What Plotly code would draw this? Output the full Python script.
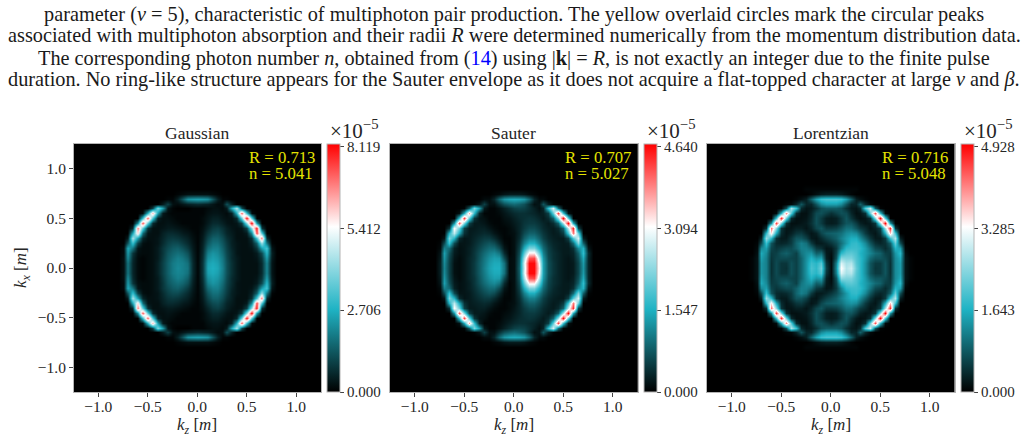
import numpy as np
import plotly.graph_objects as go

# Grid of the tabulated part of each spectrum: k_z across, k_x from 0 upward.
# Values are percentages of the panel's peak; the lower half mirrors the upper.
kz_tab = [round(-0.8 + 0.05 * i, 2) for i in range(33)]

gaussian_pct = [
    [0,3,22,7,2,1,2,3,6,12,18,23,26,24,22,8,1,10,31,33,31,24,15,9,5,3,3,3,3,8,25,4,0],
    [0,3,22,7,2,1,2,3,6,12,18,23,25,24,21,8,1,10,30,32,30,23,15,9,5,3,3,3,3,8,25,4,0],
    [0,3,26,8,2,1,2,3,5,11,17,21,24,22,18,7,1,9,27,30,28,22,14,8,5,3,3,3,4,10,29,5,0],
    [0,2,29,10,3,2,2,3,5,10,16,19,21,19,15,6,1,8,24,28,26,20,13,8,4,3,3,3,5,14,35,6,0],
    [0,2,32,22,4,2,2,3,5,10,14,17,18,15,11,5,1,7,20,24,24,18,12,7,4,3,3,4,10,30,40,4,0],
    [0,0,16,38,12,3,2,3,4,8,12,14,14,11,8,4,1,6,16,21,21,16,11,6,4,3,3,6,18,52,22,1,0],
    [0,0,5,55,30,7,3,3,4,7,10,11,10,8,6,3,1,5,13,18,18,14,9,6,3,3,3,9,40,85,8,0,0],
    [0,0,0,32,72,20,4,3,3,6,8,8,7,5,4,2,1,4,10,14,15,11,7,5,3,3,5,26,92,42,0,0,0],
    [0,0,0,8,85,44,9,3,3,4,5,5,4,3,2,1,1,3,7,11,12,9,6,4,3,4,12,52,98,10,0,0,0],
    [0,0,0,0,26,90,44,8,3,3,4,3,2,1,1,1,1,2,5,8,8,6,4,3,4,11,50,100,30,0,0,0,0],
    [0,0,0,0,0,38,88,40,6,3,3,2,1,1,1,1,1,2,4,6,6,4,3,3,8,45,98,44,0,0,0,0,0],
    [0,0,0,0,0,2,34,78,30,5,2,1,1,1,1,1,1,1,3,4,4,3,2,6,34,88,38,2,0,0,0,0,0],
    [0,0,0,0,0,0,0,12,48,30,4,1,0,0,0,1,1,1,2,3,3,2,5,32,55,14,0,0,0,0,0,0,0],
    [0,0,0,0,0,0,0,0,0,5,12,3,2,4,6,7,8,7,6,4,2,3,15,6,0,0,0,0,0,0,0,0,0],
    [0,0,0,0,0,0,0,0,0,0,1,1,6,16,27,29,30,29,27,16,6,1,1,0,0,0,0,0,0,0,0,0,0],
    [0,0,0,0,0,0,0,0,0,0,0,0,1,2,3,3,3,3,3,2,1,0,0,0,0,0,0,0,0,0,0,0,0],
    [0,0,0,0,0,0,0,0,0,0,0,0,0,0,0,0,0,0,0,0,0,0,0,0,0,0,0,0,0,0,0,0,0],
]

sauter_pct = [
    [0,6,25,12,3,2,4,7,11,17,24,30,33,33,22,2,3,18,60,100,100,70,30,15,10,7,5,4,5,13,28,7,0],
    [0,6,26,12,3,2,4,7,11,17,23,29,32,32,21,2,3,17,62,100,100,66,30,15,10,7,5,4,5,13,29,7,0],
    [0,5,28,13,4,2,4,7,10,16,22,27,30,29,14,2,3,16,55,90,92,58,28,14,9,7,5,4,6,15,32,7,0],
    [0,4,30,15,5,3,4,6,10,15,20,24,26,22,8,1,3,14,44,70,70,46,24,13,9,7,5,5,7,18,37,8,0],
    [0,2,24,20,6,3,4,6,9,13,17,20,20,14,4,1,3,12,33,48,48,33,20,12,8,6,5,5,9,26,34,4,0],
    [0,1,14,38,14,4,4,5,8,11,14,16,14,8,2,1,3,10,24,33,33,24,16,10,7,6,5,6,20,48,18,1,0],
    [0,0,4,48,34,8,4,5,7,9,11,11,8,4,1,1,3,8,18,24,24,18,12,8,6,5,5,12,42,62,6,0,0],
    [0,0,0,34,58,32,9,5,6,7,8,7,4,2,1,2,3,7,14,18,18,14,10,7,5,6,11,40,85,45,0,0,0],
    [0,0,0,9,68,46,12,5,5,6,6,4,2,1,1,2,4,7,11,14,14,11,8,6,5,8,18,58,95,12,0,0,0],
    [0,0,0,0,28,88,48,12,5,5,4,2,1,1,2,3,5,7,10,11,11,9,7,5,8,18,55,100,32,0,0,0,0],
    [0,0,0,0,0,38,92,44,10,4,3,1,1,1,3,4,6,8,9,10,9,7,5,8,18,52,100,45,0,0,0,0,0],
    [0,0,0,0,0,3,32,78,36,7,1,1,1,2,4,6,8,9,9,8,7,5,6,12,44,92,38,3,0,0,0,0,0],
    [0,0,0,0,0,0,1,17,48,30,5,1,1,3,6,9,12,13,12,9,6,3,7,38,62,20,1,0,0,0,0,0,0],
    [0,0,0,0,0,0,0,0,1,4,12,3,3,9,15,18,20,18,15,9,3,4,16,6,1,0,0,0,0,0,0,0,0],
    [0,0,0,0,0,0,0,0,0,0,2,2,7,19,28,31,32,31,28,19,7,2,2,0,0,0,0,0,0,0,0,0,0],
    [0,0,0,0,0,0,0,0,0,0,0,0,1,2,4,5,5,5,4,2,1,0,0,0,0,0,0,0,0,0,0,0,0],
    [0,0,0,0,0,0,0,0,0,0,0,0,0,0,0,0,0,0,0,0,0,0,0,0,0,0,0,0,0,0,0,0,0],
]

lorentzian_pct = [
    [1,4,28,24,9,14,10,9,15,12,19,28,40,36,46,12,2,26,68,56,60,44,36,27,16,10,11,16,9,26,30,4,1],
    [1,4,28,24,9,14,10,10,15,12,19,28,38,35,42,10,2,24,62,54,56,42,36,27,16,11,11,16,9,26,30,4,1],
    [1,4,30,24,10,13,14,14,13,12,19,27,34,28,30,6,2,16,50,48,48,41,36,29,20,16,16,14,10,26,32,4,1],
    [0,3,32,26,11,12,16,18,15,12,22,26,28,18,20,5,3,13,36,42,43,40,34,30,25,20,18,12,11,28,36,3,0],
    [0,2,26,30,13,10,12,14,14,18,24,24,20,11,9,4,5,11,25,36,38,38,36,30,22,14,12,8,13,34,30,1,0],
    [0,1,14,38,16,8,7,8,11,19,24,21,11,5,5,7,10,14,21,29,36,37,33,26,16,9,7,9,18,44,15,0,0],
    [0,0,6,52,36,9,5,5,10,16,16,12,5,4,8,12,15,18,24,29,33,33,26,18,10,5,5,11,38,56,6,0,0],
    [0,0,0,36,70,32,8,4,6,10,11,7,4,6,13,17,18,19,21,26,28,26,19,11,6,4,9,34,75,38,0,0,0],
    [0,0,0,9,85,50,10,4,4,6,6,4,7,13,16,11,11,12,16,21,21,16,11,8,4,6,12,54,95,10,0,0,0],
    [0,0,0,0,26,92,48,9,3,3,4,5,9,15,11,6,5,6,11,16,16,11,6,4,5,10,52,100,28,0,0,0,0],
    [0,0,0,0,0,38,95,46,8,3,3,4,8,15,11,6,5,6,11,16,10,5,3,4,9,50,100,42,0,0,0,0,0],
    [0,0,0,0,0,2,34,82,42,8,3,3,7,14,15,12,9,12,15,14,7,3,4,9,46,90,36,2,0,0,0,0,0],
    [0,0,0,0,0,0,1,15,55,38,8,4,5,9,15,17,17,17,15,9,5,4,8,42,60,16,1,0,0,0,0,0,0],
    [0,0,0,0,0,0,0,1,2,7,16,7,7,16,26,30,30,30,26,16,7,7,18,8,2,0,0,0,0,0,0,0,0],
    [0,0,0,0,0,0,0,0,0,1,3,6,18,30,38,40,40,40,38,30,18,6,3,1,0,0,0,0,0,0,0,0,0],
    [0,0,0,0,0,0,0,0,0,0,0,0,1,3,5,6,6,6,5,3,1,0,0,0,0,0,0,0,0,0,0,0,0],
    [0,0,0,0,0,0,0,0,0,0,0,1,1,1,1,1,1,1,1,1,1,1,0,0,0,0,0,0,0,0,0,0,0],
]

titles = ["Gaussian", "Sauter", "Lorentzian"]
peaks = [8.119, 4.640, 4.928]
colorbar_ticks = [
    [0.000, 2.706, 5.412, 8.119],
    [0.000, 1.547, 3.094, 4.640],
    [0.000, 1.643, 3.285, 4.928],
]
radii = ["0.713", "0.707", "0.716"]
photon_numbers = ["5.041", "5.027", "5.048"]
axis_ticks = [-1.0, -0.5, 0.0, 0.5, 1.0]

caption_lines = [
    "parameter (<i>ν</i> = 5), characteristic of multiphoton pair production. The yellow overlaid circles mark the circular peaks",
    "associated with multiphoton absorption and their radii <i>R</i> were determined numerically from the momentum distribution data.",
    "The corresponding photon number <i>n</i>, obtained from (<span style=\"color:#0000ff\">14</span>) using |<b>k</b>| = <i>R</i>, is not exactly an integer due to the finite pulse",
    "duration. No ring-like structure appears for the Sauter envelope as it does not acquire a flat-topped character at large <i>ν</i> and <i>β</i>.",
]

W, H = 1026, 440
SERIF = "Liberation Serif"
INK = "#262626"
FRAME = "#b4b4b4"
# left, right edges of each square plot and left edge of its colorbar, in pixels
panel_px = [(73.5, 321.0, 327.0), (390.0, 637.5, 644.0), (707.0, 954.5, 960.5)]
TOP, BOTTOM = 144.0, 392.0
BAR_W = 12.5
# the colorbar runs about 1% past its top tick
HEADROOM = 1.011

colorscale = [
    [0.0, "#000000"],
    [1 / 3, "#1fb3c4"],
    [2 / 3, "#ffffff"],
    [1.0, "#ff0000"],
]


def full_plane(pct_rows, peak):
    """Mirror the upper half and pad with empty momentum space out to |k| = 1.25."""
    upper = np.array(pct_rows, dtype=float) * peak / 100.0
    both = np.vstack([upper[:0:-1], upper])
    return np.pad(both, 9)


k_axis = np.round(np.arange(-1.25, 1.2501, 0.05), 2)
fig = go.Figure()
annotations = []

for i, rows in enumerate([gaussian_pct, sauter_pct, lorentzian_pct]):
    left, right, bar_left = panel_px[i]
    suffix = "" if i == 0 else str(i + 1)
    fig.add_trace(go.Heatmap(
        x=k_axis, y=k_axis, z=full_plane(rows, peaks[i]),
        xaxis="x" + suffix, yaxis="y" + suffix,
        zmin=0, zmax=peaks[i] * HEADROOM, zsmooth="best",
        colorscale=colorscale, hoverinfo="skip",
        colorbar=dict(
            x=bar_left / W, xanchor="left", xpad=0,
            y=1 - BOTTOM / H, yanchor="bottom", ypad=0,
            len=(BOTTOM - TOP) / H, lenmode="fraction",
            thickness=BAR_W, thicknessmode="pixels",
            outlinecolor=FRAME, outlinewidth=1,
            tickmode="array", tickvals=colorbar_ticks[i],
            ticktext=[f"{v:.3f}" for v in colorbar_ticks[i]],
            ticks="outside", ticklen=4, tickcolor="#444444", tickwidth=1,
            tickfont=dict(family=SERIF, size=15, color=INK),
        ),
    ))
    axis_common = dict(
        range=[-1.25, 1.25], showgrid=False, zeroline=False,
        showline=True, mirror=True, linecolor=FRAME, linewidth=1,
        tickmode="array", tickvals=axis_ticks, tickformat=".1f",
        tickfont=dict(family=SERIF, size=15.5, color=INK),
    )
    fig.update_layout({
        "xaxis" + suffix: dict(
            axis_common, domain=[left / W, right / W],
            anchor="y" + suffix, ticks="outside", ticklen=3.5,
            tickcolor="#444444", ticklabelstandoff=-3,
        ),
        "yaxis" + suffix: dict(
            axis_common, domain=[1 - BOTTOM / H, 1 - TOP / H],
            anchor="x" + suffix,
            ticks="outside" if i == 0 else "",
            ticklen=3.5, tickcolor="#444444", showticklabels=i == 0,
        ),
    })
    centre = (left + right) / 2
    annotations += [
        dict(x=centre / W, y=1 - 133 / H, text=titles[i],
             font=dict(family=SERIF, size=17.5, color=INK)),
        dict(x=centre / W, y=1 - 426 / H, text="<i>k<sub>z</sub></i> [<i>m</i>]",
             font=dict(family=SERIF, size=17, color=INK)),
        dict(x=(bar_left + 1) / W, y=1 - 129 / H, xanchor="left",
             text="×10<sup>−5</sup>",
             font=dict(family=SERIF, size=21, color=INK)),
        dict(x=(right - 74.5) / W, y=1 - 157 / H, xanchor="left",
             text=f"R = {radii[i]}",
             font=dict(family=SERIF, size=16.7, color="#e4e400")),
        dict(x=(right - 74.5) / W, y=1 - 173 / H, xanchor="left",
             text=f"n = {photon_numbers[i]}",
             font=dict(family=SERIF, size=16.7, color="#e4e400")),
    ]

annotations.append(dict(
    x=22 / W, y=1 - 268 / H, text="<i>k<sub>x</sub></i> [<i>m</i>]", textangle=-90,
    font=dict(family=SERIF, size=17, color=INK),
))

# Caption text that runs above the plots
for line, y_px in zip(caption_lines, [15, 36, 58, 79]):
    annotations.append(dict(
        x=514 / W, y=1 - y_px / H, text=line,
        font=dict(family=SERIF, size=20.3, color="#1a1a1a"),
    ))

for a in annotations:
    a.update(xref="paper", yref="paper", showarrow=False, yanchor="middle")
    a.setdefault("xanchor", "center")

fig.update_layout(
    width=W, height=H, margin=dict(l=0, r=0, t=0, b=0, autoexpand=False),
    paper_bgcolor="white", plot_bgcolor="black",
    showlegend=False, annotations=annotations,
)

fig.write_html("out.html", config=dict(displayModeBar=False))
